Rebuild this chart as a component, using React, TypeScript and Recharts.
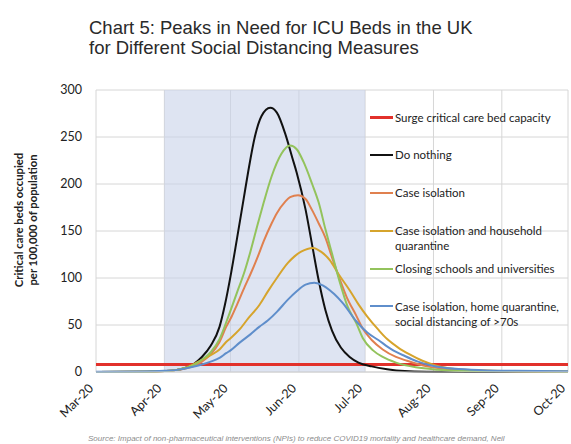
import React from 'react';
import { ComposedChart, Line, XAxis, YAxis, CartesianGrid, ReferenceArea, Legend } from 'recharts';

// x values are days since 1 March 2020
const monthTicks = [0, 31, 61, 92, 122, 153, 184, 214];
const monthLabels = ['Mar-20', 'Apr-20', 'May-20', 'Jun-20', 'Jul-20', 'Aug-20', 'Sep-20', 'Oct-20'];
const yTicks = [0, 50, 100, 150, 200, 250, 300];
const distancingStart = 31;
const distancingEnd = 122;

const surgeCapacity = [
  { day: 0, v: 8 },
  { day: 214, v: 8 },
];

const doNothing = [
  { day: 0, v: 0 }, { day: 20, v: 0.2 }, { day: 31, v: 1 }, { day: 36, v: 2 }, { day: 40, v: 4 },
  { day: 44, v: 8 }, { day: 48, v: 16 }, { day: 52, v: 28 }, { day: 56, v: 48 }, { day: 58.5, v: 72 },
  { day: 61, v: 102 }, { day: 64, v: 143 }, { day: 67, v: 185 }, { day: 69, v: 213 }, { day: 72, v: 250 },
  { day: 75, v: 272 }, { day: 79, v: 281 }, { day: 82, v: 276 }, { day: 86, v: 252 }, { day: 89, v: 228 },
  { day: 91, v: 212 }, { day: 95, v: 173 }, { day: 98, v: 135 }, { day: 101, v: 97 }, { day: 104, v: 66 },
  { day: 107, v: 44 }, { day: 111, v: 26 }, { day: 115, v: 16 }, { day: 119, v: 10 }, { day: 125, v: 6 },
  { day: 132, v: 3 }, { day: 140, v: 1 }, { day: 150, v: 0.3 }, { day: 170, v: 0 }, { day: 214, v: 0 },
];

const caseIsolation = [
  { day: 0, v: 0 }, { day: 20, v: 0.2 }, { day: 31, v: 1 }, { day: 36, v: 2 }, { day: 40, v: 3.5 },
  { day: 44, v: 6 }, { day: 48, v: 11 }, { day: 52, v: 19 }, { day: 56, v: 32 }, { day: 59, v: 48 },
  { day: 61.5, v: 59 }, { day: 64, v: 72 }, { day: 67.5, v: 91 }, { day: 70, v: 104 }, { day: 73.4, v: 123 },
  { day: 76, v: 139 }, { day: 79.6, v: 158 }, { day: 82, v: 169 }, { day: 85.7, v: 181 }, { day: 88, v: 186 },
  { day: 91.6, v: 188 }, { day: 95, v: 184 }, { day: 97.8, v: 173 }, { day: 101, v: 158 }, { day: 104, v: 143 },
  { day: 107, v: 122 }, { day: 110, v: 102 }, { day: 113.6, v: 80 }, { day: 118, v: 60 }, { day: 121, v: 46 },
  { day: 125, v: 34 }, { day: 130, v: 24 }, { day: 136, v: 16 }, { day: 141, v: 12 }, { day: 150, v: 6 },
  { day: 160, v: 3 }, { day: 180, v: 1 }, { day: 214, v: 0.3 },
];

const householdQuarantine = [
  { day: 0, v: 0 }, { day: 20, v: 0.2 }, { day: 31, v: 1 }, { day: 36, v: 2 }, { day: 40, v: 4 },
  { day: 44, v: 8 }, { day: 48, v: 13 }, { day: 52, v: 18 }, { day: 56, v: 24 }, { day: 59, v: 32 },
  { day: 61, v: 36 }, { day: 65, v: 45 }, { day: 69, v: 57 }, { day: 74, v: 71 }, { day: 78, v: 86 },
  { day: 82, v: 100 }, { day: 87, v: 116 }, { day: 90, v: 123 }, { day: 93, v: 128 }, { day: 98.4, v: 132 },
  { day: 102, v: 128 }, { day: 106, v: 119 }, { day: 110, v: 104 }, { day: 115, v: 87 }, { day: 119, v: 72 },
  { day: 123, v: 59 }, { day: 128, v: 45 }, { day: 132, v: 35 }, { day: 137, v: 26 }, { day: 142, v: 19 },
  { day: 148, v: 12 }, { day: 154, v: 7 }, { day: 160, v: 4 }, { day: 170, v: 2 }, { day: 185, v: 1 },
  { day: 214, v: 0.5 },
];

const closingSchools = [
  { day: 0, v: 0 }, { day: 20, v: 0.2 }, { day: 31, v: 1 }, { day: 36, v: 2 }, { day: 40, v: 4 },
  { day: 44, v: 7 }, { day: 48, v: 13 }, { day: 52, v: 21 }, { day: 56, v: 35 }, { day: 60, v: 59 },
  { day: 64, v: 85 }, { day: 67.5, v: 108 }, { day: 70, v: 128 }, { day: 73.4, v: 158 }, { day: 76, v: 180 },
  { day: 79.6, v: 208 }, { day: 84, v: 232 }, { day: 88, v: 241 }, { day: 91, v: 237 }, { day: 94, v: 224 },
  { day: 98, v: 200 }, { day: 101, v: 180 }, { day: 104, v: 152 }, { day: 107, v: 126 }, { day: 110.6, v: 95 },
  { day: 114, v: 70 }, { day: 118, v: 52 }, { day: 121, v: 36 }, { day: 125.6, v: 23 }, { day: 130, v: 16 },
  { day: 136, v: 10 }, { day: 145, v: 5 }, { day: 155, v: 2.5 }, { day: 170, v: 1 }, { day: 214, v: 0.3 },
];

const socialDistancing70 = [
  { day: 0, v: 0.3 }, { day: 20, v: 0.5 }, { day: 31, v: 1.2 }, { day: 36, v: 2 }, { day: 40, v: 3.5 },
  { day: 44, v: 5.5 }, { day: 48, v: 8 }, { day: 52, v: 11 }, { day: 56, v: 15 }, { day: 59, v: 20 },
  { day: 61, v: 23 }, { day: 65, v: 31 }, { day: 70, v: 40 }, { day: 74, v: 48 }, { day: 78, v: 55 },
  { day: 82, v: 64 }, { day: 87, v: 77 }, { day: 91, v: 86 }, { day: 95, v: 93 }, { day: 99, v: 95 },
  { day: 103, v: 92 }, { day: 106, v: 87 }, { day: 108, v: 83 }, { day: 112, v: 73 }, { day: 118, v: 54 },
  { day: 123, v: 42 }, { day: 128, v: 34 }, { day: 134, v: 24 }, { day: 140, v: 17 }, { day: 146, v: 11 },
  { day: 152, v: 7 }, { day: 158, v: 4.5 }, { day: 170, v: 2.5 }, { day: 190, v: 1.2 }, { day: 214, v: 0.8 },
];

const seriesNames = [
  'Surge critical care bed capacity',
  'Do nothing',
  'Case isolation',
  'Case isolation and household\nquarantine',
  'Closing schools and universities',
  'Case isolation, home quarantine,\nsocial distancing of >70s',
];
const seriesColors = ['#e2312b', '#111111', '#e0804f', '#d6a42c', '#93c35c', '#5f8ecb'];
const seriesData = [surgeCapacity, doNothing, caseIsolation, householdQuarantine, closingSchools, socialDistancing70];

const XTick = (props: any) => {
  const { x, y, payload } = props;
  const idx = monthTicks.indexOf(payload.value);
  return (
    <g transform={`translate(${x - 5},${y + 12})`}>
      <text
        textAnchor="end"
        transform="rotate(-45)"
        dy="0.35em"
        fontSize={12.5}
        fill="#222"
        fontFamily="Lato, 'Open Sans', sans-serif"
      >
        {monthLabels[idx]}
      </text>
    </g>
  );
};

const LegendBox = () => (
  <div style={{ fontFamily: "Lato, 'Open Sans', sans-serif", fontSize: 11.5, color: '#222', lineHeight: '15px' }}>
    {seriesNames.map((n, i) => (
      <div key={n} style={{ height: 37.9, display: 'flex', alignItems: 'flex-start' }}>
        <div
          style={{
            width: 23,
            height: i === 0 ? 3 : 2,
            background: seriesColors[i],
            marginTop: i === 0 ? 6 : 6.5,
            marginRight: 2,
            flex: '0 0 auto',
          }}
        />
        <div style={{ whiteSpace: 'pre-line' }}>{n}</div>
      </div>
    ))}
  </div>
);

export default function App() {
  return (
    <div style={{ position: 'absolute', left: 0, top: 0, width: 571, height: 444, overflow: 'hidden', background: '#fff' }}>
      <div
        style={{
          position: 'absolute',
          left: 89,
          top: 18,
          fontFamily: "'Liberation Sans', Arial, sans-serif",
          fontSize: 18.5,
          lineHeight: '20px',
          color: '#2a2a2a',
          whiteSpace: 'nowrap',
        }}
      >
        Chart 5: Peaks in Need for ICU Beds in the UK
        <br />
        for Different Social Distancing Measures
      </div>
      <div
        style={{
          position: 'absolute',
          left: -74,
          top: 206,
          width: 200,
          height: 28,
          transform: 'rotate(-90deg)',
          transformOrigin: '100px 14px',
          textAlign: 'center',
          fontFamily: "Lato, 'Open Sans', sans-serif",
          fontWeight: 700,
          fontSize: 11.3,
          lineHeight: '14px',
          color: '#222',
          whiteSpace: 'nowrap',
        }}
      >
        Critical care beds occupied
        <br />
        per 100,000 of population
      </div>
      <ComposedChart width={571} height={444} margin={{ top: 90, right: 3, bottom: 0, left: 0 }}>
        <CartesianGrid stroke="#d6d6d6" strokeWidth={1} />
        <ReferenceArea
          x1={distancingStart}
          x2={distancingEnd}
          y1={0}
          y2={300}
          fill="#c8d2ea"
          fillOpacity={0.6}
          stroke="none"
          ifOverflow="hidden"
        />
        <XAxis
          type="number"
          dataKey="day"
          domain={[0, 214]}
          ticks={monthTicks}
          interval={0}
          tick={<XTick />}
          tickLine={false}
          tickSize={0}
          axisLine={{ stroke: '#d0d0d0' }}
          height={72}
          allowDuplicatedCategory={false}
        />
        <YAxis
          type="number"
          domain={[0, 300]}
          ticks={yTicks}
          interval={0}
          width={96}
          axisLine={false}
          tickLine={false}
          tickSize={0}
          tickMargin={14}
          tick={{ fontSize: 12.5, fill: '#222', fontFamily: "Lato, 'Open Sans', sans-serif" }}
        />
        <Legend
          layout="vertical"
          align="center"
          verticalAlign="middle"
          wrapperStyle={{ position: 'absolute', top: 109.5, left: 370, width: 200 }}
          content={<LegendBox />}
        />
        {seriesData.map((d, i) => (
          <Line
            key={seriesNames[i]}
            data={d}
            dataKey="v"
            name={seriesNames[i]}
            type="monotone"
            stroke={seriesColors[i]}
            strokeWidth={i === 0 ? 3 : 2}
            dot={false}
            activeDot={false}
            isAnimationActive={false}
          />
        ))}
      </ComposedChart>
      <div
        style={{
          position: 'absolute',
          left: 88,
          top: 434,
          fontFamily: "'Liberation Sans', Arial, sans-serif",
          fontStyle: 'italic',
          fontSize: 8,
          lineHeight: '10px',
          color: '#8c8c8c',
          whiteSpace: 'nowrap',
        }}
      >
        Source: Impact of non-pharmaceutical interventions (NPIs) to reduce COVID19 mortality and healthcare demand, Neil
        <br />
        <span style={{ paddingLeft: 29 }}>Ferguson et. all, Imperial College</span>
      </div>
    </div>
  );
}
